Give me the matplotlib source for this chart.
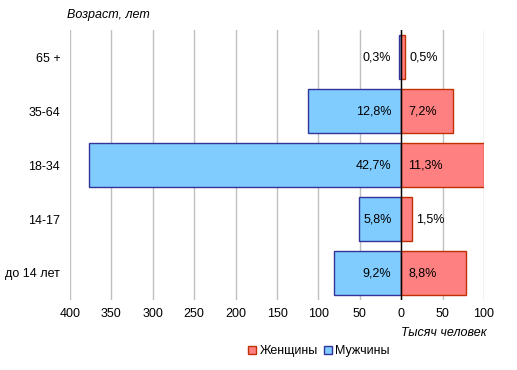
import matplotlib
matplotlib.use("Agg")
matplotlib.rcParams["font.family"] = ["Liberation Sans", "DejaVu Sans"]
matplotlib.rcParams["font.size"] = 9
import matplotlib.pyplot as plt
import numpy as np

# ── Data (thousand people) ──
AGES = ["до 14 лет", "14-17", "18-34", "35-64", "65 +"]
MEN = [81.2, 51.2, 377.0, 113.0, 2.7]
WOMEN = [77.7, 13.2, 99.5, 63.0, 4.4]
MEN_PCT = ["9,2%", "5,8%", "42,7%", "12,8%", "0,3%"]
WOMEN_PCT = ["8,8%", "1,5%", "11,3%", "7,2%", "0,5%"]
XTICKS = [-400, -350, -300, -250, -200, -150, -100, -50, 0, 50, 100]

MEN_FILL, MEN_EDGE = "#80CCFF", "#333399"
WOMEN_FILL, WOMEN_EDGE = "#FF8080", "#C03000"

fig = plt.figure(figsize=(5.17, 3.70), dpi=100)
ax = fig.add_axes([70 / 517, 70 / 370, 414 / 517, 270 / 370])

y = np.arange(len(AGES))
h = 0.83
ax.barh(y, [-v for v in MEN], height=h, color=MEN_FILL, edgecolor=MEN_EDGE,
        linewidth=1.0, label="Мужчины", zorder=2)
ax.barh(y, WOMEN, height=h, color=WOMEN_FILL, edgecolor=WOMEN_EDGE,
        linewidth=1.0, label="Женщины", zorder=2)
ax.axvline(0, color="black", linewidth=1.0, zorder=3)

# value labels
for yi, m, w, mp, wp in zip(y, MEN, WOMEN, MEN_PCT, WOMEN_PCT):
    ax.annotate(mp, (0, yi), xytext=(-7, 0), textcoords="offset points",
                ha="right", va="center", zorder=4)
    if w < 20:
        ax.annotate(wp, (w, yi), xytext=(3, 0), textcoords="offset points",
                    ha="left", va="center", zorder=4)
    else:
        ax.annotate(wp, (0, yi), xytext=(5, 0), textcoords="offset points",
                    ha="left", va="center", zorder=4)

ax.set_xlim(-400, 100)
ax.set_ylim(-0.5, len(AGES) - 0.5)
ax.set_xticks(XTICKS)
ax.set_xticklabels([str(abs(t)) for t in XTICKS])
ax.set_yticks(y)
ax.set_yticklabels(AGES)
ax.tick_params(length=0, pad=6)
ax.tick_params(axis="y", pad=7)
ax.grid(axis="x", color="#C0C0C0", linewidth=1.0, zorder=0)
ax.set_axisbelow(True)
for s in ax.spines.values():
    s.set_visible(False)

fig.text(67 / 517, 1 - 15 / 370, "Возраст, лет", style="italic",
         ha="left", va="center")
fig.text(487 / 517, 1 - 333 / 370, "Тысяч человек", style="italic",
         ha="right", va="center")

handles, labels = ax.get_legend_handles_labels()
fig.legend(handles[::-1], labels[::-1], loc="center", ncol=2,
           bbox_to_anchor=(319 / 517, 1 - 351 / 370), frameon=False,
           handlelength=0.6, handleheight=0.6, handletextpad=0.3,
           columnspacing=0.5, fontsize=9)

fig.savefig("out.png", dpi=100)
